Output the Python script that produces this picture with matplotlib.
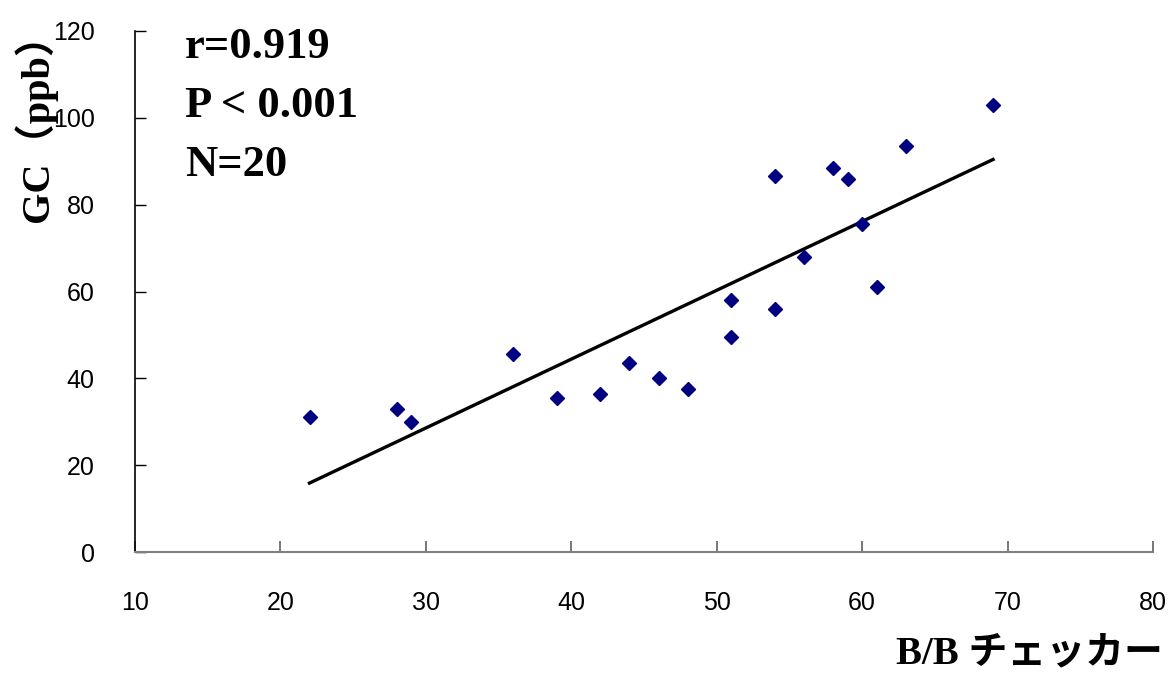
import numpy as np
import matplotlib
matplotlib.use("Agg")
import matplotlib.pyplot as plt

# B/B checker vs GC readings
bb_checker = [22, 28, 29, 36, 39, 42, 44, 46, 48, 51, 51, 54, 54, 56, 58, 59, 60, 61, 63, 69]
gc_ppb = [31, 33, 30, 45.5, 35.5, 36.5, 43.5, 40, 37.5, 58, 49.5, 56, 86.5, 68, 88.5, 86, 75.5, 61, 93.5, 103]

stats_lines = ["r=0.919", "P < 0.001", "N=20"]
x_ticks = [10, 20, 30, 40, 50, 60, 70, 80]
y_ticks = [0, 20, 40, 60, 80, 100, 120]

fig = plt.figure(figsize=(11.7, 6.75), dpi=100)
ax = fig.add_axes([135 / 1170, 1 - 552 / 675, (1153 - 135) / 1170, (552 - 31) / 675])

x = np.array(bb_checker)
y = np.array(gc_ppb)

# regression line through the data range
slope, intercept = np.polyfit(x, y, 1)
xs = np.array([x.min(), x.max()])
ax.plot(xs, slope * xs + intercept, color="black", lw=2.4, zorder=2)

ax.plot(x, y, linestyle="none", marker="D", ms=7.5, color="#000080", zorder=3)

ax.set_xlim(10, 80)
ax.set_ylim(0, 120)
ax.set_xticks(x_ticks)
ax.set_yticks(y_ticks)

for s in ["top", "right"]:
    ax.spines[s].set_visible(False)
ax.spines["left"].set_color("black")
ax.spines["left"].set_linewidth(1.2)
ax.spines["bottom"].set_color("#808080")
ax.spines["bottom"].set_linewidth(1.5)

ax.tick_params(axis="y", direction="in", length=8, width=1, pad=29,
               labelsize=18, colors="black")
ax.tick_params(axis="x", direction="in", length=8, width=1.2, pad=28,
               labelsize=18, color="#606060", labelcolor="black")
for lbl in ax.get_xticklabels() + ax.get_yticklabels():
    lbl.set_fontfamily("Liberation Sans")

# stats text
for i, t in enumerate(stats_lines):
    fig.text(185 / 1170, 1 - (47 + i * 59) / 675, t, fontsize=32, fontweight="bold",
             family="Liberation Serif", va="center", ha="left")

fig.text(35 / 1170, 1 - 118 / 675, "GC（ppb）", rotation=90, fontsize=29, fontweight="bold",
         family=["Liberation Serif", "Noto Sans CJK JP"], va="center", ha="center")
fig.text(1163 / 1170, 1 - 655 / 675, "B/B チェッカー", fontsize=28, fontweight="bold",
         family=["Liberation Serif", "Noto Sans CJK JP"], va="center", ha="right")

fig.savefig("out.png", dpi=100)
